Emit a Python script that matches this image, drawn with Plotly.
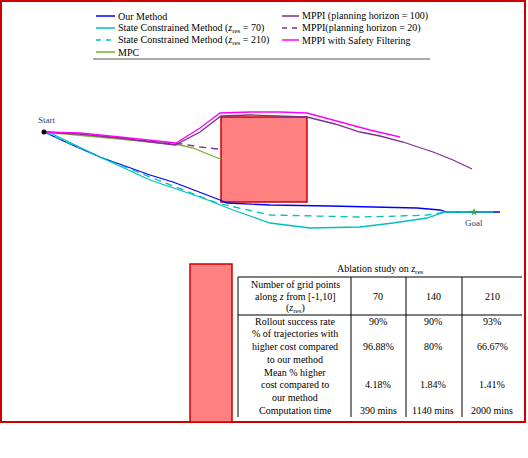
import plotly.graph_objects as go

# trajectories (plane coordinates, y grows downwards)
our_x = [44, 70, 100, 127, 150, 173, 200, 220, 227, 270, 330, 380, 417, 440, 447, 474, 500]
our_y = [132, 144, 157, 167, 175, 182, 192, 200, 203, 205, 206, 207, 208, 210, 212, 212, 212]

sc70_x = [44, 50, 100, 150, 200, 233, 270, 293, 310, 360, 393, 427, 440, 445, 474, 493]
sc70_y = [132, 133, 157, 180, 197, 210, 223, 226, 228, 227, 223, 218, 214, 212, 212, 212]

sc210_x = [44, 100, 150, 183, 217, 270, 310, 360, 400, 427, 440, 447, 474]
sc210_y = [132, 157, 177, 190, 203, 215, 216, 217, 216, 215, 213, 212, 212]

mpc_x = [44, 80, 120, 150, 180, 193, 207, 215, 221]
mpc_y = [132, 135, 139, 142, 145, 148, 154, 157, 159]

mppi100_x = [44, 80, 120, 150, 175, 200, 221, 250, 280, 307, 335, 360, 380, 403, 433, 453, 472]
mppi100_y = [132, 134, 138, 142, 145, 132, 116, 115, 116, 117, 124, 132, 136, 142, 152, 160, 169]

mppi20_x = [44, 80, 120, 155, 165, 183, 200, 218]
mppi20_y = [132, 134, 138, 142, 143, 144, 147, 149]

safe_x = [44, 80, 120, 150, 176, 200, 220, 250, 280, 307, 340, 370, 400]
safe_y = [132, 133, 137, 140, 143, 128, 113, 112, 112, 113, 122, 130, 137]

series = [
    ("Our Method", our_x, our_y, "#0000ff", "solid"),
    ("State Constrained Method (<i>z</i><sub>res</sub> = 70)", sc70_x, sc70_y, "#00bfbf", "solid"),
    ("State Constrained Method (<i>z</i><sub>res</sub> = 210)", sc210_x, sc210_y, "#00bfbf", "7px,5px"),
    ("MPC", mpc_x, mpc_y, "#77ac30", "solid"),
    ("MPPI (planning horizon = 100)", mppi100_x, mppi100_y, "#7e2f8e", "solid"),
    ("MPPI(planning horizon = 20)", mppi20_x, mppi20_y, "#7e2f8e", "7px,5px"),
    ("MPPI with Safety Filtering", safe_x, safe_y, "#ff00ff", "solid"),
]

# ablation table
grid_points = ["70", "140", "210"]
success_rate = ["90%", "90%", "93%"]
pct_higher_cost = ["96.88%", "80%", "66.67%"]
mean_higher_cost = ["4.18%", "1.84%", "1.41%"]
comp_time = ["390 mins", "1140 mins", "2000 mins"]

FONT = "Liberation Serif"
RED = "#cc0000"
SALMON = "#ff8080"

fig = go.Figure()
for name, xs, ys, col, dash in series:
    fig.add_trace(go.Scatter(x=xs, y=ys, mode="lines", name=name,
                             line=dict(color=col, width=1.3, dash=dash), showlegend=False))

# start / goal
fig.add_trace(go.Scatter(x=[44], y=[132], mode="markers", marker=dict(color="black", size=5), showlegend=False))
fig.add_trace(go.Scatter(x=[474], y=[212], mode="markers", marker=dict(color="#33aa33", size=6, symbol="star"),
                         showlegend=False))

shapes = []
annotations = []

# outer red frame
shapes.append(dict(type="rect", x0=1, y0=1, x1=525, y1=422, line=dict(color=RED, width=2)))
# obstacle
shapes.append(dict(type="rect", x0=221, y0=117, x1=307, y1=202, fillcolor=SALMON,
                   line=dict(color=RED, width=1.5), layer="below"))
# lower salmon block
shapes.append(dict(type="rect", x0=190, y0=264, x1=232, y1=422, fillcolor=SALMON,
                   line=dict(color=RED, width=1.5)))

annotations.append(dict(x=46, y=120, text="Start", showarrow=False, font=dict(size=9, family=FONT)))
annotations.append(dict(x=474, y=223, text="Goal", showarrow=False, font=dict(size=9, family=FONT)))

# hand-built legend, two columns
col_pos = [(96, 116), (282, 300)]
rows_y = [16, 28, 40, 52]
for k, (name, xs, ys, col, dash) in enumerate(series):
    c = 0 if k < 4 else 1
    r = k if k < 4 else k - 4
    lx0, tx = col_pos[c]
    shapes.append(dict(type="line", x0=lx0, x1=tx - 1, y0=rows_y[r], y1=rows_y[r],
                       line=dict(color=col, width=1.5, dash="5px,5px" if dash != "solid" else "solid")))
    annotations.append(dict(x=tx, y=rows_y[r], text=name, xanchor="left", showarrow=False,
                            font=dict(size=10, family=FONT, color="black")))
shapes.append(dict(type="line", x0=93, x1=430, y0=59, y1=59, line=dict(color="#555555", width=1)))

# table lines
for xv in [238, 351, 406, 462]:
    shapes.append(dict(type="line", x0=xv, x1=xv, y0=277, y1=417, line=dict(color="black", width=1)))
for yv in [277, 315]:
    shapes.append(dict(type="line", x0=238, x1=522, y0=yv, y1=yv, line=dict(color="black", width=1)))

tf = dict(size=10, family=FONT, color="black")
annotations.append(dict(x=380, y=269, text="Ablation study on <i>z</i><sub>res</sub>", showarrow=False, font=tf))
col_x = [378, 433, 492]
head_lines = ["Number of grid points", "along <i>z</i> from [-1,10]", "(<i>z</i><sub>res</sub>)"]
for t, yv in zip(head_lines, [284, 296, 308]):
    annotations.append(dict(x=295, y=yv, text=t, showarrow=False, font=tf))
row_labels = [
    (["Rollout success rate"], [321], success_rate, 321),
    (["% of trajectories with", "higher cost compared", "to our method"], [333, 346, 359], pct_higher_cost, 346),
    (["Mean % higher", "cost compared to", "our method"], [372, 384, 397], mean_higher_cost, 384),
    (["Computation time"], [410], comp_time, 410),
]
for i, g in enumerate(grid_points):
    annotations.append(dict(x=col_x[i], y=296, text=g, showarrow=False, font=tf))
for lines, ys, vals, vy in row_labels:
    for t, yv in zip(lines, ys):
        annotations.append(dict(x=295, y=yv, text=t, showarrow=False, font=tf))
    for i, v in enumerate(vals):
        annotations.append(dict(x=col_x[i], y=vy, text=v, showarrow=False, font=tf))

fig.update_layout(
    width=528, height=458,
    margin=dict(l=0, r=0, t=0, b=0),
    paper_bgcolor="white", plot_bgcolor="white",
    xaxis=dict(range=[0, 528], visible=False, fixedrange=True),
    yaxis=dict(range=[458, 0], visible=False, fixedrange=True),
    shapes=shapes, annotations=annotations,
    showlegend=False,
)

fig.write_html("out.html", config={"displayModeBar": False},
               post_script="document.body.style.margin='0';")
